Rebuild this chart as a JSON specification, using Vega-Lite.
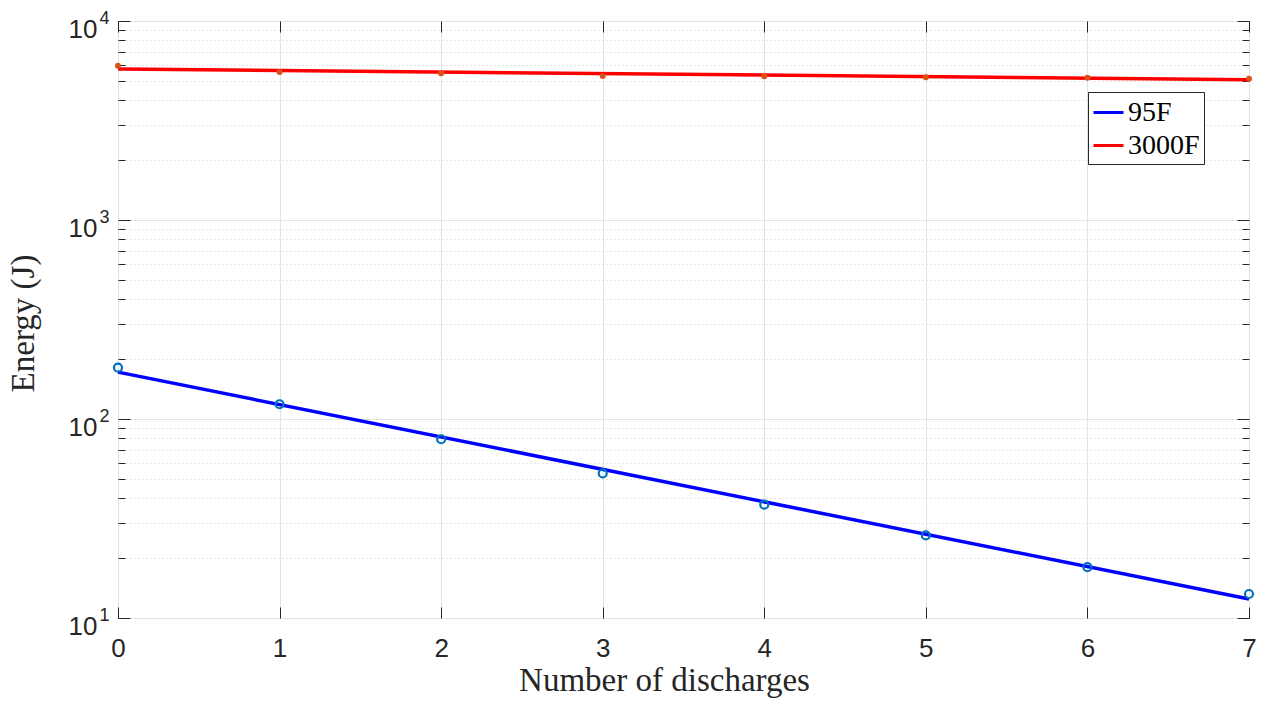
{
  "$schema": "https://vega.github.io/schema/vega-lite/v6.json",
  "width": 1131,
  "height": 597,
  "autosize": {"type": "none"},
  "padding": {"left": 118, "top": 21, "right": 12, "bottom": 86},
  "background": "white",
  "config": {
    "view": {"stroke": "#262626", "strokeWidth": 1},
    "axis": {
      "labelFont": "Liberation Sans",
      "labelColor": "#262626",
      "titleFont": "Liberation Serif",
      "titleColor": "#262626",
      "titleFontWeight": "normal",
      "domain": false,
      "tickColor": "#262626",
      "tickWidth": 1,
      "labelFlush": false,
      "labelOverlap": false,
      "labelBound": false
    },
    "legend": {
      "orient": "none",
      "legendX": 970,
      "legendY": 71,
      "fillColor": "white",
      "strokeColor": "#262626",
      "strokeWidth": 1,
      "padding": 4,
      "labelFont": "Liberation Serif",
      "labelFontSize": 28,
      "labelColor": "black",
      "symbolType": "stroke",
      "symbolSize": 900,
      "symbolStrokeWidth": 3,
      "rowPadding": 2,
      "labelOffset": 3
    }
  },
  "data": {
    "values": [
      {"series": "95F", "kind": "fit", "n": 0, "energy": 172},
      {"series": "95F", "kind": "fit", "n": 7, "energy": 12.45},
      {"series": "3000F", "kind": "fit", "n": 0, "energy": 5740},
      {"series": "3000F", "kind": "fit", "n": 7, "energy": 5070},
      {"series": "95F", "kind": "data", "n": 0, "energy": 181},
      {"series": "95F", "kind": "data", "n": 1, "energy": 118.6},
      {"series": "95F", "kind": "data", "n": 2, "energy": 79.1},
      {"series": "95F", "kind": "data", "n": 3, "energy": 53.3},
      {"series": "95F", "kind": "data", "n": 4, "energy": 37.1},
      {"series": "95F", "kind": "data", "n": 5, "energy": 26.0},
      {"series": "95F", "kind": "data", "n": 6, "energy": 18.0},
      {"series": "95F", "kind": "data", "n": 7, "energy": 13.2},
      {"series": "3000F", "kind": "data", "n": 0, "energy": 5963},
      {"series": "3000F", "kind": "data", "n": 1, "energy": 5541},
      {"series": "3000F", "kind": "data", "n": 2, "energy": 5459},
      {"series": "3000F", "kind": "data", "n": 3, "energy": 5291},
      {"series": "3000F", "kind": "data", "n": 4, "energy": 5273},
      {"series": "3000F", "kind": "data", "n": 5, "energy": 5213},
      {"series": "3000F", "kind": "data", "n": 6, "energy": 5189},
      {"series": "3000F", "kind": "data", "n": 7, "energy": 5129}
    ]
  },
  "layer": [
    {
      "transform": [{"filter": "datum.kind === 'fit' && datum.series === '95F'"}],
      "mark": {"type": "line", "strokeWidth": 3.5},
      "encoding": {
        "x": {
          "field": "n", "type": "quantitative",
          "scale": {"domain": [0, 7], "nice": false},
          "axis": {
            "orient": "bottom", "values": [0, 1, 2, 3, 4, 5, 6, 7],
            "ticks": false, "labelFontSize": 26, "labelPadding": 38, "labelBaseline": "alphabetic",
            "grid": true, "gridColor": "#e3e3e3", "gridWidth": 1,
            "title": "Number of discharges", "titleFontSize": 33,
            "titleX": 546, "titleY": 72, "titleBaseline": "alphabetic", "titleAlign": "center"
          }
        },
        "y": {
          "field": "energy", "type": "quantitative",
          "scale": {"type": "log", "domain": [10, 10000], "nice": false},
          "axis": {
            "orient": "left", "values": [10, 100, 1000, 10000],
            "labelExpr": "'10'", "ticks": false, "grid": false,
            "labelFontSize": 26, "labelPadding": 21, "labelAlign": "right",
            "labelBaseline": "alphabetic", "labelOffset": 16,
            "title": "Energy (J)", "titleFontSize": 33, "titleAngle": -90,
            "titleX": -85, "titleY": 302, "titleBaseline": "alphabetic", "titleAlign": "center"
          }
        },
        "color": {
          "field": "series", "type": "nominal",
          "scale": {"domain": ["95F", "3000F"], "range": ["#0000ff", "#ff0000"]},
          "legend": {"title": null}
        }
      }
    },
    {
      "transform": [{"filter": "datum.kind === 'fit' && datum.series === '3000F'"}],
      "mark": {"type": "line", "strokeWidth": 3.5},
      "encoding": {
        "x": {
          "field": "n", "type": "quantitative",
          "scale": {"domain": [0, 7], "nice": false},
          "axis": {
            "orient": "bottom", "values": [0, 1, 2, 3, 4, 5, 6, 7],
            "labels": false, "ticks": true, "tickSize": -11, "grid": false, "title": null
          }
        },
        "y": {
          "field": "energy", "type": "quantitative",
          "scale": {"type": "log", "domain": [10, 10000], "nice": false},
          "axis": {
            "orient": "left", "values": [10, 100, 1000, 10000],
            "labelExpr": "'' + round(log(datum.value) / LN10)", "ticks": false, "grid": false,
            "labelFontSize": 18, "labelPadding": 9, "labelAlign": "right",
            "labelBaseline": "alphabetic", "labelOffset": 2, "title": null
          }
        },
        "color": {
          "field": "series", "type": "nominal",
          "scale": {"domain": ["95F", "3000F"], "range": ["#0000ff", "#ff0000"]},
          "legend": {"title": null}
        }
      }
    },
    {
      "transform": [{"filter": "datum.kind === 'data' && datum.series === '95F'"}],
      "mark": {"type": "point", "shape": "circle", "filled": false, "stroke": "#0072BD", "strokeWidth": 2.2, "size": 64, "opacity": 1},
      "encoding": {
        "x": {
          "field": "n", "type": "quantitative",
          "scale": {"domain": [0, 7], "nice": false},
          "axis": {
            "orient": "top", "values": [0, 1, 2, 3, 4, 5, 6, 7],
            "labels": false, "ticks": true, "tickSize": -11, "grid": false, "title": null
          }
        },
        "y": {
          "field": "energy", "type": "quantitative",
          "scale": {"type": "log", "domain": [10, 10000], "nice": false},
          "axis": {
            "orient": "left",
            "values": [10, 20, 30, 40, 50, 60, 70, 80, 90, 100, 200, 300, 400, 500, 600, 700, 800, 900, 1000, 2000, 3000, 4000, 5000, 6000, 7000, 8000, 9000, 10000],
            "labels": false, "ticks": true,
            "tickSize": {"condition": {"test": "indexof([10, 100, 1000, 10000], datum.value) >= 0", "value": -12}, "value": -7},
            "grid": true,
            "gridColor": {"condition": {"test": "indexof([10, 100, 1000, 10000], datum.value) >= 0", "value": "#e3e3e3"}, "value": "#cfcfcf"},
            "gridDash": {"condition": {"test": "indexof([10, 100, 1000, 10000], datum.value) >= 0", "value": []}, "value": [1, 3]},
            "title": null
          }
        }
      }
    },
    {
      "transform": [{"filter": "datum.kind === 'data' && datum.series === '3000F'"}],
      "mark": {"type": "point", "shape": "circle", "filled": true, "color": "#D95319", "size": 36, "opacity": 1},
      "encoding": {
        "x": {
          "field": "n", "type": "quantitative",
          "scale": {"domain": [0, 7], "nice": false},
          "axis": null
        },
        "y": {
          "field": "energy", "type": "quantitative",
          "scale": {"type": "log", "domain": [10, 10000], "nice": false},
          "axis": {
            "orient": "right",
            "values": [10, 20, 30, 40, 50, 60, 70, 80, 90, 100, 200, 300, 400, 500, 600, 700, 800, 900, 1000, 2000, 3000, 4000, 5000, 6000, 7000, 8000, 9000, 10000],
            "labels": false, "ticks": true,
            "tickSize": {"condition": {"test": "indexof([10, 100, 1000, 10000], datum.value) >= 0", "value": -12}, "value": -7},
            "grid": false, "title": null
          }
        }
      }
    }
  ],
  "resolve": {"axis": {"x": "independent", "y": "independent"}}
}
